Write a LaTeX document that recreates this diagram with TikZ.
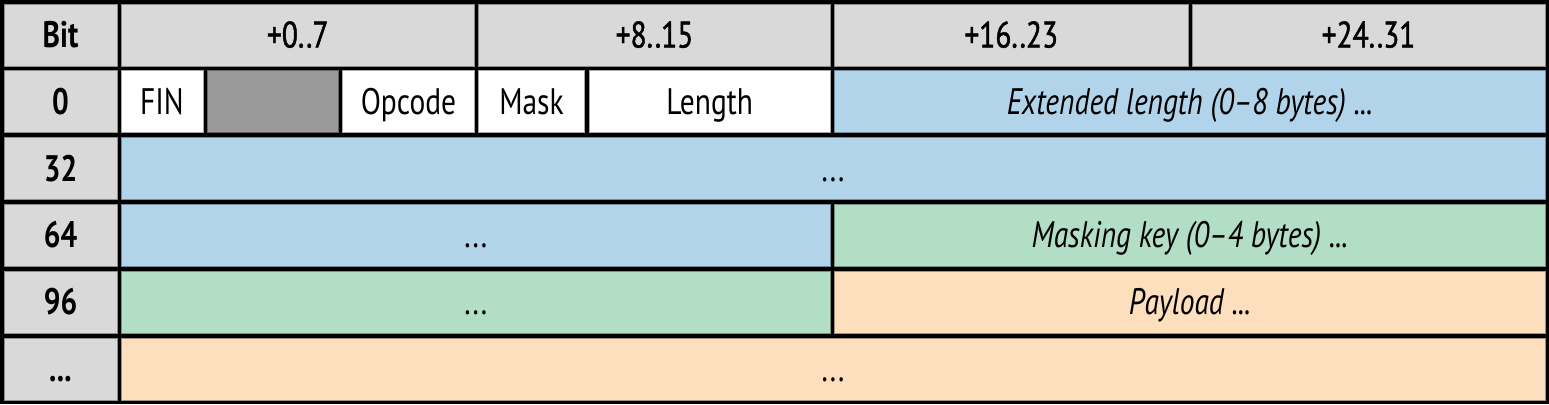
\documentclass[tikz,border=0pt]{standalone}
\usepackage{fontspec}
\setmainfont{PT Sans}[FakeStretch=0.8]
\newfontfamily\hdrfont{PT Sans}[FakeStretch=0.8,FakeBold=1.2]
\definecolor{hdr}{RGB}{217,217,217}
\definecolor{dgray}{RGB}{153,153,153}
\definecolor{cblue}{RGB}{178,212,234}
\definecolor{cgreen}{RGB}{178,222,198}
\definecolor{cpeach}{RGB}{253,223,190}
\tikzset{
  cell/.style={line width=1bp, inner sep=0pt, outer sep=0pt, anchor=north west,
    font=\fontsize{37}{42}\selectfont, text height=25bp, text depth=0bp},
  cellc/.style={fill=#1, draw=#1!65!black},
  lbl/.style={font=\fontsize{37}{42}\selectfont\bfseries},
  colh/.style={font=\fontsize{37}{42}\selectfont\hdrfont},
  ital/.style={font=\fontsize{37}{42}\selectfont\itshape},
}
\newcommand\cellat[7]{\node[cell,#6,minimum width={(#4-#2)*1bp},minimum height={(#5-#3)*1bp}] (#1) at (#2,#3) {#7};}
\begin{document}
\begin{tikzpicture}[x=1bp,y=-1bp]
\useasboundingbox (0,0) rectangle (1549,404);
\fill[black] (0,0) rectangle (1549,404);
% header row
\cellat{hbit}{4}{4}{117}{66}{cellc=hdr,lbl}{Bit}
\cellat{h0}{121}{4}{474.5}{66}{cellc=hdr,colh}{+0..7}
\cellat{h1}{478.5}{4}{830.5}{66}{cellc=hdr,colh}{+8..15}
\cellat{h2}{834.5}{4}{1188}{66}{cellc=hdr,colh}{+16..23}
\cellat{h3}{1192}{4}{1545}{66}{cellc=hdr,colh}{+24..31}
% row labels
\cellat{r0}{4}{70.8}{117}{132.8}{cellc=hdr,lbl}{0}
\cellat{r1}{4}{137.6}{117}{199.6}{cellc=hdr,lbl}{32}
\cellat{r2}{4}{204.4}{117}{266.4}{cellc=hdr,lbl}{64}
\cellat{r3}{4}{271.2}{117}{333.2}{cellc=hdr,lbl}{96}
\cellat{r4}{4}{338}{117}{400}{cellc=hdr,lbl}{...}
% row 0
\cellat{fin}{121}{70.8}{203}{132.8}{cellc=white}{FIN}
\cellat{rsv}{207}{70.8}{338.5}{132.8}{cellc=dgray}{}
\cellat{opc}{342.5}{70.8}{474.5}{132.8}{cellc=white}{Opcode}
\cellat{mask}{478.5}{70.8}{584.5}{132.8}{cellc=white}{Mask}
\cellat{len}{589}{70.8}{830.5}{132.8}{cellc=white}{Length}
\cellat{ext}{834.5}{70.8}{1545}{132.8}{cellc=cblue,ital}{Extended length (0–8 bytes) ...}
% row 32
\cellat{ext2}{121}{137.6}{1545}{199.6}{cellc=cblue}{...}
% row 64
\cellat{ext3}{121}{204.4}{830.5}{266.4}{cellc=cblue}{...}
\cellat{key}{834.5}{204.4}{1545}{266.4}{cellc=cgreen,ital}{Masking key (0–4 bytes) ...}
% row 96
\cellat{key2}{121}{271.2}{830.5}{333.2}{cellc=cgreen}{...}
\cellat{pay}{834.5}{271.2}{1545}{333.2}{cellc=cpeach,ital}{Payload ...}
% row ...
\cellat{pay2}{121}{338}{1545}{400}{cellc=cpeach}{...}
\end{tikzpicture}
\end{document}
